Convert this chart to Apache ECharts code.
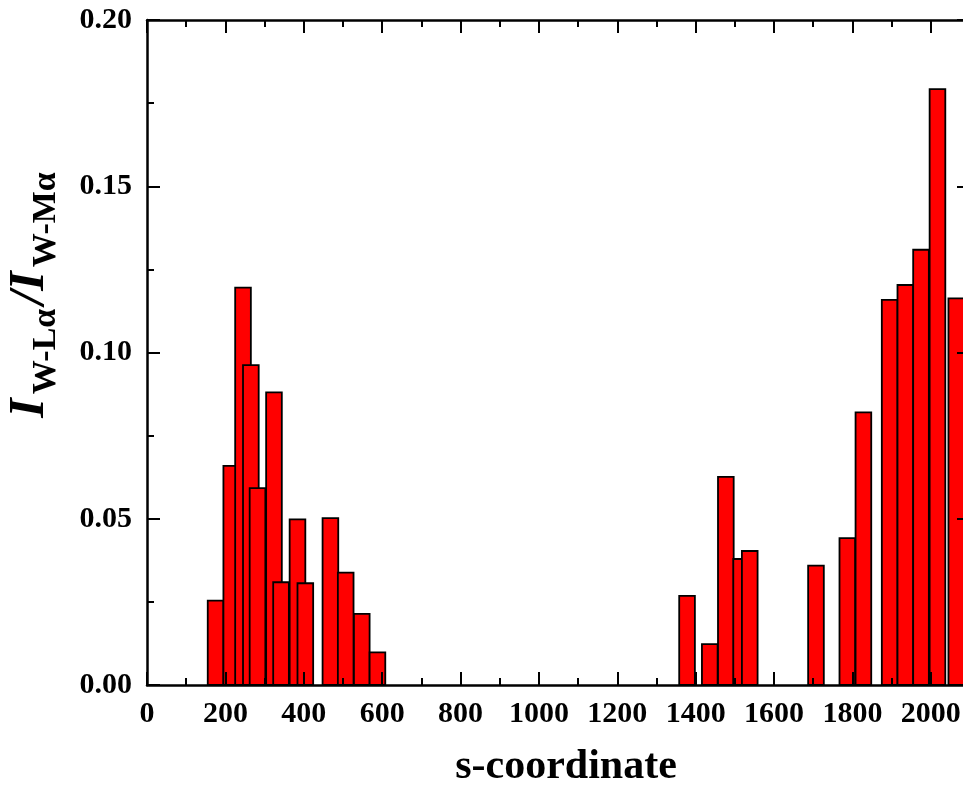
<!DOCTYPE html>
<html>
<head>
<meta charset="utf-8">
<script src="https://cdn.jsdelivr.net/npm/echarts@6/dist/echarts.min.js"></script>
<style>
html,body{margin:0;padding:0;background:#fff;}
#chart{width:963px;height:789px;}
</style>
</head>
<body>
<div id="chart"></div>
<script>
// ---- data ----
const sPositions = [175, 215, 245, 265, 282, 324, 342, 384, 404, 468, 507, 548, 588,
                    1378, 1436, 1477, 1516, 1538, 1707, 1787, 1828, 1895, 1935, 1975, 2017, 2065];
const ratios = [0.0254, 0.0659, 0.1195, 0.0962, 0.0592, 0.0880, 0.0309, 0.0498, 0.0306, 0.0502, 0.0338, 0.0214, 0.0098,
                0.0268, 0.0123, 0.0626, 0.0379, 0.0403, 0.0359, 0.0442, 0.0820, 0.1158, 0.1203, 0.1309, 0.1792, 0.1163];
const xMajorTicks = [0, 200, 400, 600, 800, 1000, 1200, 1400, 1600, 1800, 2000];
const xMinorTicks = [100, 300, 500, 700, 900, 1100, 1300, 1500, 1700, 1900];
const barWidthUnits = 40;
const xTitle = 's-coordinate';

const FONT = '"Liberation Serif", "Times New Roman", serif';
const chart = echarts.init(document.getElementById('chart'), null, {renderer: 'canvas'});

const lineStyle = {color: '#000', width: 2.5};
const tickStyle = {color: '#000', width: 2};

function xAx(pos, ticks, len, showLine, extra) {
  return Object.assign({
    type: 'value', position: pos, min: 0, max: 2100, z: 10,
    axisLine: {show: showLine, onZero: false, lineStyle: lineStyle},
    axisTick: {show: true, inside: true, length: len, customValues: ticks, lineStyle: tickStyle},
    axisLabel: {show: false},
    splitLine: {show: false}
  }, extra || {});
}

function yAx(pos, showLabel) {
  return {
    type: 'value', position: pos, min: 0, max: 0.2, interval: 0.05, z: 10,
    axisLine: {show: true, onZero: false, lineStyle: lineStyle},
    axisTick: {show: true, inside: true, length: 13, lineStyle: tickStyle},
    minorTick: {show: true, splitNumber: 2, length: 7, lineStyle: tickStyle},
    axisLabel: {show: showLabel, margin: 15, fontFamily: FONT, fontWeight: 'bold', fontSize: 30, color: '#000',
                formatter: v => v.toFixed(2)},
    splitLine: {show: false}
  };
}

const option = {
  backgroundColor: '#fff',
  animation: false,
  grid: {left: 147, top: 20, width: 823, height: 665, outerBoundsMode: 'none', containLabel: false},
  xAxis: [
    xAx('bottom', xMajorTicks, 13, true, {
      axisLabel: {show: true, customValues: xMajorTicks, margin: 14, fontFamily: FONT, fontWeight: 'bold',
                  fontSize: 30, color: '#000', formatter: v => String(v)},
      name: xTitle, nameLocation: 'middle', nameGap: 61,
      nameTextStyle: {fontFamily: FONT, fontWeight: 'bold', fontSize: 42, color: '#000', padding: [0, 0, 0, 15]}
    }),
    xAx('bottom', xMinorTicks, 7, false),
    xAx('top', xMajorTicks, 13, true),
    xAx('top', xMinorTicks, 7, false)
  ],
  yAxis: [yAx('left', true), yAx('right', false)],
  graphic: [{
    type: 'text', x: 30, y: 293, rotation: Math.PI / 2, z: 20,
    style: {
      text: '{m|I}{s|W-Lα}{m|/I}{s|W-Mα}',
      align: 'center', verticalAlign: 'middle',
      rich: {
        m: {fontFamily: FONT, fontWeight: 'bold', fontStyle: 'italic', fontSize: 50, lineHeight: 50,
            padding: [0, 2, 0, 0], verticalAlign: 'top', fill: '#000'},
        s: {fontFamily: FONT, fontWeight: 'bold', fontSize: 34, lineHeight: 34, padding: [24, 4, 0, 2],
            verticalAlign: 'top', fill: '#000'}
      }
    }
  }],
  series: [{
    type: 'custom',
    xAxisIndex: 0, yAxisIndex: 0,
    data: sPositions.map((s, i) => [s, ratios[i]]),
    encode: {x: 0, y: 1},
    renderItem: function (params, api) {
      const x = api.value(0), y = api.value(1);
      const p0 = api.coord([x - barWidthUnits / 2, y]);
      const p1 = api.coord([x + barWidthUnits / 2, 0]);
      return {
        type: 'rect',
        shape: {x: p0[0], y: p0[1], width: p1[0] - p0[0], height: p1[1] - p0[1]},
        style: {fill: '#ff0000', stroke: '#000', lineWidth: 1.8}
      };
    }
  }]
};
chart.setOption(option);
</script>
</body>
</html>
